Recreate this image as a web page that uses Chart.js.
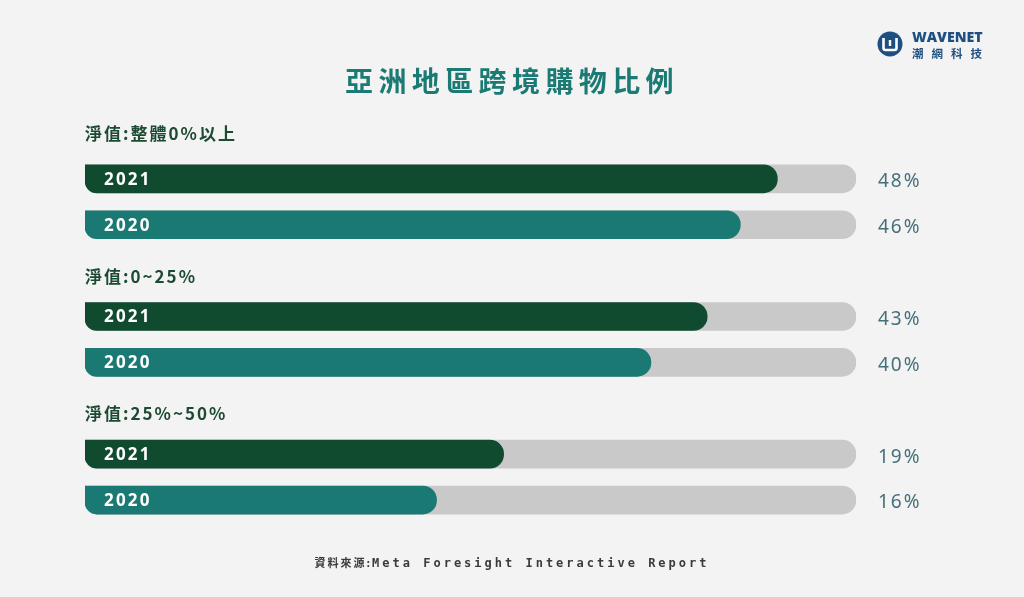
<!DOCTYPE html>
<html>
<head>
<meta charset="utf-8">
<script src="https://cdn.jsdelivr.net/npm/chart.js@4/dist/chart.umd.min.js"></script>
<style>
  body { margin: 0; background: #f3f3f3; }
  #wrap { position: relative; width: 1024px; height: 597px; overflow: hidden; }
  #wrap canvas { position: absolute; left: 0; top: 0; }
  .title {
    position: absolute; left: 0; width: 1024px; top: 60px; text-align: center;
    font: bold 28px "Noto Sans CJK TC", sans-serif; letter-spacing: 5.4px;
    color: #1b7a73;
  }
  .logo { position: absolute; left: 877px; top: 30px; }
  .logo .en {
    position: absolute; left: 35px; top: -3px;
    font: 900 14.2px "Open Sans", "Liberation Sans", sans-serif; color: #1f4f80; white-space: nowrap;
  }
  .logo .zh {
    position: absolute; left: 35px; top: 15px; white-space: nowrap;
    font: bold 11.5px "Noto Sans CJK TC", sans-serif; letter-spacing: 8px; color: #1f4f80;
  }
  .source {
    position: absolute; left: 0; width: 1024px; top: 553px; text-align: center;
    color: #3b3b3b; white-space: nowrap;
  }
  .source .zh { font: bold 11px "Noto Sans CJK TC", sans-serif; letter-spacing: 2px; }
  .source .en { font: bold 12px "DejaVu Sans Mono", monospace; letter-spacing: 3px; }
</style>
</head>
<body>
<div id="wrap">
  <canvas id="chartShare" width="1024" height="597"></canvas>
  <div class="title">亞洲地區跨境購物比例</div>
  <div class="logo">
    <svg width="28" height="28" viewBox="0 0 28 28">
      <circle cx="13" cy="14" r="12.5" fill="#1f4f80"/>
      <path d="M6.5 8 V18 Q6.5 20 8.5 20 H17.5 Q19.5 20 19.5 18 V8" fill="none" stroke="#fff" stroke-width="2.6"/>
      <path d="M13 10 V16" stroke="#fff" stroke-width="2.4"/>
    </svg>
    <div class="en">WAVENET</div>
    <div class="zh">潮網科技</div>
  </div>
  <div class="source"><span class="zh">資料來源:</span><span class="en">Meta Foresight Interactive Report</span></div>
</div>
<script>
var groups = ['淨值:整體0%以上', '淨值:0~25%', '淨值:25%~50%'];
var years = ['2021', '2020'];
// printed percentages
var shares2021 = [48, 43, 19];
var shares2020 = [46, 40, 16];
// filled length of each bar, as share of the grey track (track = 100)
var fill2021 = [89.8, 80.7, 54.3];
var fill2020 = [85.0, 73.4, 45.6];
var track = 100;

var yearColors = ['#104b2f', '#1a7a73'];

// one heading row, then a 2021 row and a 2020 row, for each group
var rows = [];
groups.forEach(function (g, i) {
	rows.push({ type: 'head', text: g });
	rows.push({ type: 'bar', year: years[0], share: shares2021[i], fill: fill2021[i], color: yearColors[0] });
	rows.push({ type: 'bar', year: years[1], share: shares2020[i], fill: fill2020[i], color: yearColors[1] });
});

var labels = rows.map(r => r.type === 'head' ? r.text : r.year);
var fillData = rows.map(r => r.type === 'bar' ? r.fill : null);
var trackData = rows.map(r => r.type === 'bar' ? track : null);
var fillColors = rows.map(r => r.color || 'transparent');

var radius = { topLeft: 0, bottomLeft: 12, topRight: 14, bottomRight: 14 };

var textPlugin = {
	id: 'barText',
	afterDatasetsDraw: function (chart) {
		var ctx = chart.ctx;
		var area = chart.chartArea;
		var yScale = chart.scales.y;
		var meta = chart.getDatasetMeta(0);
		ctx.save();
		ctx.textBaseline = 'middle';
		rows.forEach(function (r, i) {
			var y = yScale.getPixelForValue(i);
			if (r.type === 'head') {
				// headings sit a bit closer to their own bars
				var next = yScale.getPixelForValue(i + 1);
				ctx.fillStyle = '#1c4a33';
				ctx.font = 'bold 17px "Noto Sans CJK TC", sans-serif';
				ctx.letterSpacing = '2px';
				ctx.textAlign = 'left';
				ctx.fillText(r.text, area.left, i === 0 ? y + 1 : y + (next - y) * 0.12);
			} else {
				var bar = meta.data[i];
				ctx.fillStyle = '#ffffff';
				ctx.font = 'bold 17px "Noto Sans", sans-serif';
				ctx.letterSpacing = '2.2px';
				ctx.textAlign = 'left';
				ctx.fillText(r.year, bar.base + 19, bar.y + 1);
				ctx.fillStyle = '#45707a';
				ctx.font = '19px "Noto Sans", sans-serif';
				ctx.letterSpacing = '2px';
				ctx.fillText(r.share + '%', area.right + 22, bar.y + 3);
			}
		});
		ctx.restore();
	}
};

var cs = document.getElementById('chartShare');
var chartShare = new Chart(cs, {
	type: 'bar',
	data: {
		labels: labels,
		datasets: [
			{
				data: fillData,
				backgroundColor: fillColors,
				barThickness: 28,
				borderRadius: radius,
				borderSkipped: false,
				grouped: false
			},
			{
				data: trackData,
				backgroundColor: '#c9c9c9',
				barThickness: 28,
				borderRadius: radius,
				borderSkipped: false,
				grouped: false
			}
		]
	},
	options: {
		indexAxis: 'y',
		responsive: false,
		animation: false,
		layout: { padding: { left: 85, right: 168, top: 110, bottom: 74 } },
		scales: {
			x: { min: 0, max: track, display: false },
			y: { display: false }
		},
		plugins: {
			legend: { display: false },
			tooltip: { enabled: false }
		}
	},
	plugins: [textPlugin]
});
</script>
</body>
</html>
